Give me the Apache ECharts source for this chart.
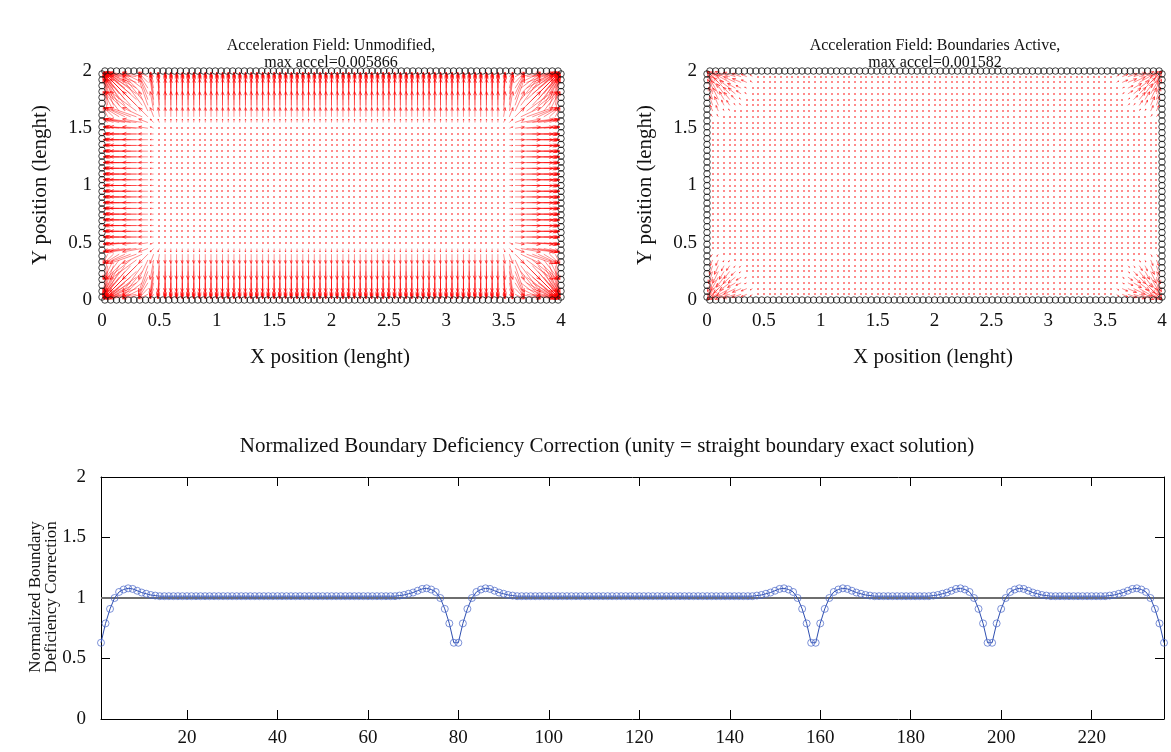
<!DOCTYPE html>
<html><head><meta charset="utf-8">
<script src="https://cdn.jsdelivr.net/npm/echarts@6/dist/echarts.min.js"></script>
<style>html,body{margin:0;padding:0;background:#fff}#c{width:1171px;height:752px}</style>
</head><body><div id="c"></div>
<script>
// ---------- data ----------
const topXTicks = [0, 0.5, 1, 1.5, 2, 2.5, 3, 3.5, 4];
const topYTicks = [0, 0.5, 1, 1.5, 2];
const bottomXTicks = [20, 40, 60, 80, 100, 120, 140, 160, 180, 200, 220];
const bottomYTicks = [0, 0.5, 1, 1.5, 2];

const titleLeft = 'Acceleration Field: Unmodified,\nmax accel=0.005866';
const titleRight = 'Acceleration Field: Boundaries Active,\nmax accel=0.001582';
const titleBottom = 'Normalized Boundary Deficiency Correction (unity = straight boundary exact solution)';

// field grid (interior particles) and boundary particle counts
const gridStep = 0.05;
const fieldCols = 79, fieldRows = 39;
const boundaryLong = 79, boundaryShort = 39;

// arrow length (domain units) by row distance from a wall, unmodified field
const unmodWallProfile = [0.04, 0.085, 0.13, 0.17, 0.21, 0.23, 0.17, 0.08, 0.03, 0.012];
// boundaries active: small wall arrows and corner fans (by radial index from corner)
const activeWallProfile = [0.015, 0.008];
const activeCornerProfile = [0, 0.06, 0.10, 0.13, 0.13, 0.11, 0.08, 0.05, 0.02];

// normalized boundary deficiency correction, per boundary particle (236)
const corrEdge1 = [0.63,0.79,0.91,1.00,1.05,1.07,1.08,1.075,1.06,1.045,1.035,1.025,1.02,
 1.015,1.015,1.015,1.015,1.015,1.015,1.015,1.015,1.015,1.015,
 1.015,1.015,1.015,1.015,1.015,1.015,1.015,1.015,1.015,1.015,
 1.015,1.015,1.015,1.015,1.015,1.015,1.015,1.015,1.015,1.015,
 1.015,1.015,1.015,1.015,1.015,1.015,1.015,1.015,1.015,1.015,
 1.015,1.015,1.015,1.015,1.015,1.015,1.015,1.015,1.015,1.015,
 1.015,1.015,1.015,
 1.02,1.025,1.035,1.045,1.06,1.075,1.08,1.07,1.05,1.00,0.91,0.79,0.63];
const corrEdge2 = [0.63,0.79,0.91,1.00,1.05,1.07,1.08,1.075,1.06,1.045,1.035,1.025,1.02,
 1.015,1.015,1.015,1.015,1.015,1.015,1.015,1.015,1.015,1.015,
 1.015,1.015,1.015,1.015,1.015,1.015,1.015,1.015,1.015,1.015,
 1.015,1.015,1.015,1.015,1.015,1.015,1.015,1.015,1.015,1.015,
 1.015,1.015,1.015,1.015,1.015,1.015,1.015,1.015,1.015,1.015,
 1.015,1.015,1.015,1.015,1.015,1.015,1.015,1.015,1.015,1.015,
 1.015,1.015,1.015,
 1.02,1.025,1.035,1.045,1.06,1.075,1.08,1.07,1.05,1.00,0.91,0.79,0.63];
const corrEdge3 = [0.63,0.79,0.91,1.00,1.05,1.07,1.08,1.075,1.06,1.045,1.035,1.025,1.02,
 1.015,1.015,1.015,1.015,1.015,1.015,1.015,1.015,1.015,1.015,1.015,1.015,1.015,
 1.02,1.025,1.035,1.045,1.06,1.075,1.08,1.07,1.05,1.00,0.91,0.79,0.63];
const corrEdge4 = [0.63,0.79,0.91,1.00,1.05,1.07,1.08,1.075,1.06,1.045,1.035,1.025,1.02,
 1.015,1.015,1.015,1.015,1.015,1.015,1.015,1.015,1.015,1.015,1.015,1.015,1.015,
 1.02,1.025,1.035,1.045,1.06,1.075,1.08,1.07,1.05,1.00,0.91,0.79,0.63];

// ---------- tables built from the data ----------
const correction = corrEdge1.concat(corrEdge2, corrEdge3, corrEdge4);
const corrData = correction.map((v, i) => [i + 1, v]);

const XMAX = 4, YMAX = 2;
function boundaryPoints() {
  const pts = [];
  for (let i = 0; i < boundaryLong; i++) pts.push([(i + 0.5) * XMAX / boundaryLong, YMAX]);
  for (let i = 0; i < boundaryLong; i++) pts.push([(i + 0.5) * XMAX / boundaryLong, 0]);
  for (let j = 0; j < boundaryShort; j++) pts.push([0, (j + 0.5) * YMAX / boundaryShort]);
  for (let j = 0; j < boundaryShort; j++) pts.push([XMAX, (j + 0.5) * YMAX / boundaryShort]);
  return pts;
}
const corners = [[0, 0], [XMAX, 0], [0, YMAX], [XMAX, YMAX]];
function buildField(kind) {
  const out = [];
  for (let i = 1; i <= fieldCols; i++) {
    for (let j = 1; j <= fieldRows; j++) {
      const x = i * gridStep, y = j * gridStep;
      const kL = i, kR = fieldCols + 1 - i, kB = j, kT = fieldRows + 1 - j;
      const prof = kind === 'unmod' ? unmodWallProfile : activeWallProfile;
      const A = k => prof[k - 1] || 0;
      let u = -A(kL) + A(kR);
      let v = -A(kB) + A(kT);
      if (kind === 'active') {
        corners.forEach(c => {
          const dx = x - c[0], dy = y - c[1];
          const r = Math.hypot(dx, dy);
          const idx = Math.round(r / gridStep);
          const m = activeCornerProfile[idx] || 0;
          if (m) { u -= dx / r * m; v -= dy / r * m; }
        });
      }
      out.push([x, y, u, v]);
    }
  }
  return out;
}

const FONT = '"Liberation Serif", "DejaVu Serif", serif';

function renderArrow(params, api) {
  const x = api.value(0), y = api.value(1), u = api.value(2), v = api.value(3);
  const p0 = api.coord([x, y]), p1 = api.coord([x + u, y + v]);
  const dx = p1[0] - p0[0], dy = p1[1] - p0[1];
  const L = Math.hypot(dx, dy);
  if (L < 2.2) {
    return { type: 'rect', shape: { x: Math.round(p0[0]) - 1, y: Math.round(p0[1]) - 1, width: 2, height: 2 },
      style: { fill: '#ff0000', stroke: null, opacity: 0.45 } };
  }
  const a = Math.atan2(dy, dx), h = Math.min(4, L * 0.35), s = 0.42;
  return {
    type: 'polyline',
    shape: { points: [
      [p0[0], p0[1]], [p1[0], p1[1]],
      [p1[0] - h * Math.cos(a - s), p1[1] - h * Math.sin(a - s)],
      [p1[0], p1[1]],
      [p1[0] - h * Math.cos(a + s), p1[1] - h * Math.sin(a + s)]] },
    style: { stroke: '#ff0000', lineWidth: 1, fill: null, opacity: 0.45 }
  };
}

const chart = echarts.init(document.getElementById('c'), null, { renderer: 'canvas' });

function topX(gi) {
  return { gridIndex: gi, type: 'value', min: 0, max: 4, interval: 0.5,
    axisLine: { show: false }, axisTick: { show: false }, splitLine: { show: false },
    axisLabel: { fontFamily: FONT, fontSize: 19, color: '#111', margin: 12,
      customValues: topXTicks } };
}
function topY(gi) {
  return { gridIndex: gi, type: 'value', min: 0, max: 2, interval: 0.5,
    axisLine: { show: false }, axisTick: { show: false }, splitLine: { show: false },
    axisLabel: { fontFamily: FONT, fontSize: 19, color: '#111', margin: 10,
      customValues: topYTicks } };
}
const tickStyle = { show: true, inside: true, length: 9, lineStyle: { color: '#000', width: 1 } };

const option = {
  animation: false,
  backgroundColor: '#fff',
  color: ['#ff0000'],
  grid: [
    { left: 102, width: 459, top: 71, height: 229 },
    { left: 707, width: 455, top: 71, height: 229 },
    { left: 101, width: 1063, top: 477, height: 242 }
  ],
  xAxis: [
    topX(0), topX(1),
    { gridIndex: 2, type: 'value', min: 1, max: 236, position: 'bottom',
      axisLine: { show: true, onZero: false, lineStyle: { color: '#000', width: 1 } },
      axisTick: Object.assign({ customValues: bottomXTicks }, tickStyle),
      splitLine: { show: false },
      axisLabel: { fontFamily: FONT, fontSize: 19, color: '#111', margin: 10, customValues: bottomXTicks } },
    { gridIndex: 2, type: 'value', min: 1, max: 236, position: 'top',
      axisLine: { show: true, onZero: false, lineStyle: { color: '#000', width: 1 } },
      axisTick: Object.assign({ customValues: bottomXTicks }, tickStyle),
      splitLine: { show: false }, axisLabel: { show: false } }
  ],
  yAxis: [
    topY(0), topY(1),
    { gridIndex: 2, type: 'value', min: 0, max: 2, interval: 0.5, position: 'left',
      axisLine: { show: true, onZero: false, lineStyle: { color: '#000', width: 1 } },
      axisTick: Object.assign({ customValues: bottomYTicks }, tickStyle),
      splitLine: { show: false },
      axisLabel: { fontFamily: FONT, fontSize: 19, color: '#111', margin: 15, customValues: bottomYTicks } },
    { gridIndex: 2, type: 'value', min: 0, max: 2, interval: 0.5, position: 'right',
      axisLine: { show: true, onZero: false, lineStyle: { color: '#000', width: 1 } },
      axisTick: Object.assign({ customValues: bottomYTicks }, tickStyle),
      splitLine: { show: false }, axisLabel: { show: false } }
  ],
  series: [
    { type: 'custom', xAxisIndex: 0, yAxisIndex: 0, renderItem: renderArrow, clip: true,
      progressive: 0, data: buildField('unmod'), encode: { x: 0, y: 1 }, silent: true, z: 2,
      itemStyle: { color: '#ff0000' } },
    { type: 'custom', xAxisIndex: 1, yAxisIndex: 1, renderItem: renderArrow, clip: true,
      progressive: 0, data: buildField('active'), encode: { x: 0, y: 1 }, silent: true, z: 2,
      itemStyle: { color: '#ff0000' } },
    { type: 'scatter', xAxisIndex: 0, yAxisIndex: 0, data: boundaryPoints(), clip: false,
      progressive: 0, symbol: 'circle', symbolSize: 6.5, silent: true, z: 3,
      itemStyle: { color: 'rgba(0,0,0,0)', borderColor: '#111', borderWidth: 1 } },
    { type: 'scatter', xAxisIndex: 1, yAxisIndex: 1, data: boundaryPoints(), clip: false,
      progressive: 0, symbol: 'circle', symbolSize: 6.5, silent: true, z: 3,
      itemStyle: { color: 'rgba(0,0,0,0)', borderColor: '#111', borderWidth: 1 } },
    { type: 'line', xAxisIndex: 2, yAxisIndex: 2, data: [[1, 1], [236, 1]], symbol: 'none',
      lineStyle: { color: '#6e6e6e', width: 2 }, silent: true, z: 2 },
    { type: 'line', xAxisIndex: 2, yAxisIndex: 2, data: corrData, clip: false,
      symbol: 'circle', symbolSize: 7, silent: true, z: 3,
      lineStyle: { color: '#2f4fb0', width: 1 },
      itemStyle: { color: 'rgba(0,0,0,0)', borderColor: 'rgba(70,100,200,0.7)', borderWidth: 1 } }
  ],
  graphic: [
    { type: 'text', x: 331, y: 54, style: { text: titleLeft, font: '16px ' + FONT, fill: '#111',
      textAlign: 'center', textVerticalAlign: 'middle', lineHeight: 17 } },
    { type: 'text', x: 935, y: 54, style: { text: titleRight, font: '16px ' + FONT, fill: '#111',
      textAlign: 'center', textVerticalAlign: 'middle', lineHeight: 17 } },
    { type: 'text', x: 330, y: 357, style: { text: 'X position (lenght)', font: '21px ' + FONT, fill: '#111',
      textAlign: 'center', textVerticalAlign: 'middle' } },
    { type: 'text', x: 933, y: 357, style: { text: 'X position (lenght)', font: '21px ' + FONT, fill: '#111',
      textAlign: 'center', textVerticalAlign: 'middle' } },
    { type: 'text', x: 40, y: 185, rotation: Math.PI / 2, style: { text: 'Y position (lenght)', font: '21px ' + FONT, fill: '#111',
      textAlign: 'center', textVerticalAlign: 'middle' } },
    { type: 'text', x: 645, y: 185, rotation: Math.PI / 2, style: { text: 'Y position (lenght)', font: '21px ' + FONT, fill: '#111',
      textAlign: 'center', textVerticalAlign: 'middle' } },
    { type: 'text', x: 607, y: 446, style: { text: titleBottom, font: '21px ' + FONT, fill: '#111',
      textAlign: 'center', textVerticalAlign: 'middle' } },
    { type: 'text', x: 44, y: 597, rotation: Math.PI / 2, style: { text: 'Normalized Boundary\nDeficiency Correction',
      font: '17px ' + FONT, fill: '#111', textAlign: 'center', textVerticalAlign: 'middle', lineHeight: 16 } }
  ]
};
chart.setOption(option);
</script>
</body></html>
